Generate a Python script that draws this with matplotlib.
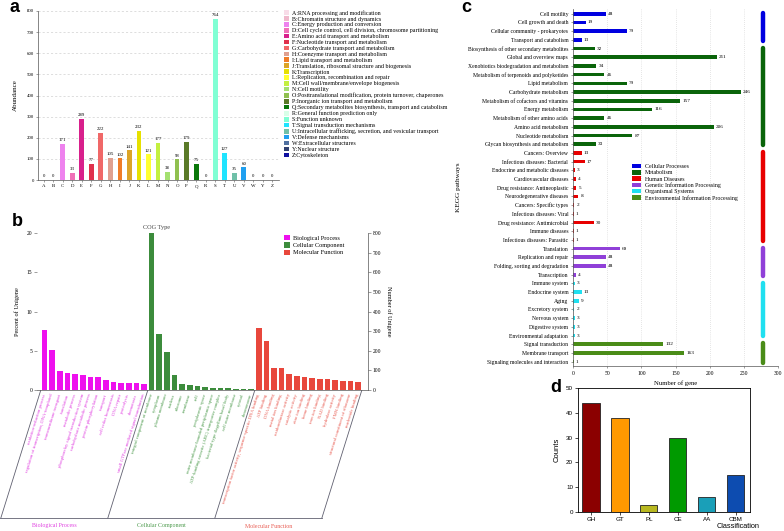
import numpy as np
import matplotlib
matplotlib.use("Agg")
import matplotlib.pyplot as plt
from matplotlib.patches import Patch
from matplotlib.transforms import blended_transform_factory

W, H = 784, 531
SERIF = 'Liberation Serif'
SANS = 'Liberation Sans'

#### panel a : COG
cog_letters = ['A', 'B', 'C', 'D', 'E', 'F', 'G', 'H', 'I', 'J', 'K', 'L', 'M',
               'N', 'O', 'P', 'Q', 'R', 'S', 'T', 'U', 'V', 'W', 'Y', 'Z']
cog_counts = [0, 0, 171, 33, 289, 77, 222, 105, 102, 141, 232, 121, 177,
              38, 98, 179, 75, 0, 764, 127, 35, 60, 0, 0, 0]
cog_names = ["RNA processing and modification",
             "Chromatin structure and dynamics",
             "Energy production and conversion",
             "Cell cycle control, cell division, chromosome partitioning",
             "Amino acid transport and metabolism",
             "Nucleotide transport and metabolism",
             "Carbohydrate transport and metabolism",
             "Coenzyme transport and metabolism",
             "Lipid transport and metabolism",
             "Translation, ribosomal structure and biogenesis",
             "Transcription",
             "Replication, recombination and repair",
             "Cell wall/membrane/envelope biogenesis",
             "Cell motility",
             "Posttranslational modification, protein turnover, chaperones",
             "Inorganic ion transport and metabolism",
             "Secondary metabolites biosynthesis, transport and catabolism",
             "General function prediction only",
             "Function unknown",
             "Signal transduction mechanisms",
             "Intracellular trafficking, secretion, and vesicular transport",
             "Defense mechanisms",
             "Extracellular structures",
             "Nuclear structure",
             "Cytoskeleton"]
cog_colors = ['#F8DCE8', '#F0B8CC', '#EE82EE', '#F070B8', '#D8208C', '#E0304C',
              '#F06868', '#E0A090', '#F07C28', '#DCA428', '#E6E000', '#FFFF30',
              '#C4F040', '#A4E070', '#90C050', '#5A7A28', '#0A780A', '#D8FFE8',
              '#80FFD4', '#20E4FF', '#70C0A8', '#20A0F0', '#5070A0', '#304070',
              '#1010A0']

#### panel b : GO
go_groups = ['Biological Process', 'Cellular Component', 'Molecular Function']
go_bp_terms = ["oxidation-reduction process",
               "regulation of transcription, DNA-templated",
               "transmembrane transport", "translation", "metabolic process",
               "phosphorelay signal transduction system",
               "carbohydrate metabolic process", "protein phosphorylation",
               "transport", "cell redox homeostasis", "DNA repair",
               "proteolysis", "chemotaxis",
               "small GTPase mediated signal transduction"]
go_bp_pct = [7.6, 5.1, 2.4, 2.2, 2.1, 1.85, 1.7, 1.6, 1.25, 1.05, 0.9, 0.9, 0.85, 0.75]
go_cc_terms = ["integral component of membrane", "cytoplasm", "plasma membrane",
               "nucleus", "ribosome", "membrane", "cell", "periplasmic space",
               "outer membrane-bounded periplasmic space",
               "ATP-binding cassette (ABC) transporter complex",
               "bacterial-type flagellum basal body", "cell outer membrane",
               "cytosol", "chromosome"]
go_cc_pct = [20.1, 7.1, 4.8, 1.95, 0.8, 0.6, 0.55, 0.35, 0.3, 0.2, 0.2, 0.15, 0.1, 0.1]
go_mf_terms = ["transcription factor activity, sequence-specific DNA binding",
               "ATP binding", "DNA binding", "metal ion binding",
               "oxidoreductase activity", "catalytic activity", "zinc ion binding",
               "heme binding", "iron ion binding", "NAD binding",
               "hydrolase activity", "FMN binding",
               "structural constituent of ribosome", "nucleotide binding"]
go_mf_pct = [7.85, 6.3, 2.85, 2.85, 2.07, 1.8, 1.62, 1.47, 1.46, 1.42, 1.3, 1.2, 1.12, 1.0]
go_colors = ['#EE10EE', '#3C8C3C', '#E8473C']
go_text_colors = ['#E040E0', '#4C9A4C', '#E85A50']

#### panel c : KEGG
kegg_groups = ['Cellular Processes', 'Metabolism', 'Human Diseases',
               'Genetic Information Processing', 'Organismal Systems',
               'Environmental Information Processing']
kegg_colors = ['#0000E0', '#0A640A', '#E80000', '#9040D8', '#20E0F0', '#4A8C18']
kegg_pathways = [
    ["Cell motility", "Cell growth and death", "Cellular community - prokaryotes",
     "Transport and catabolism"],
    ["Biosynthesis of other secondary metabolites", "Global and overview maps",
     "Xenobiotics biodegradation and metabolism",
     "Metabolism of terpenoids and polyketides", "Lipid metabolism",
     "Carbohydrate metabolism", "Metabolism of cofactors and vitamins",
     "Energy metabolism", "Metabolism of other amino acids",
     "Amino acid metabolism", "Nucleotide metabolism",
     "Glycan biosynthesis and metabolism"],
    ["Cancers: Overview", "Infectious diseases: Bacterial",
     "Endocrine and metabolic diseases", "Cardiovascular diseases",
     "Drug resistance: Antineoplastic", "Neurodegenerative diseases",
     "Cancers: Specific types", "Infectious diseases: Viral",
     "Drug resistance: Antimicrobial", "Immune diseases",
     "Infectious diseases: Parasitic"],
    ["Translation", "Replication and repair", "Folding, sorting and degradation",
     "Transcription"],
    ["Immune system", "Endocrine system", "Aging", "Excretory system",
     "Nervous system", "Digestive system", "Environmental adaptation"],
    ["Signal transduction", "Membrane transport",
     "Signaling molecules and interaction"],
]
kegg_counts = [
    [48, 19, 79, 13],
    [32, 211, 34, 46, 79, 246, 157, 116, 46, 206, 87, 33],
    [13, 17, 3, 4, 5, 8, 2, 1, 30, 1, 1],
    [69, 48, 48, 4],
    [3, 13, 9, 2, 3, 3, 3],
    [132, 163, 1],
]

#### panel d : CAZy
cazy_classes = ['GH', 'GT', 'PL', 'CE', 'AA', 'CBM']
cazy_counts = [44, 38, 3, 30, 6, 15]
cazy_colors = ['#8B0000', '#FF9900', '#B8B820', '#009A00', '#1A9FB8', '#0D4CB0']


def box(l, t, r, b):
    return [l / W, 1 - b / H, (r - l) / W, (b - t) / H]


fig = plt.figure(figsize=(W / 100, H / 100), dpi=100)
over = fig.add_axes([0, 0, 1, 1])
over.set_xlim(0, W)
over.set_ylim(H, 0)
over.axis('off')

grey = '#555555'

# ---------------- a
axa = fig.add_axes(box(38, 11, 279, 180))
xa = np.arange(len(cog_letters))
axa.bar(xa, cog_counts, width=0.5, color=cog_colors, zorder=2)
for xi, v in zip(xa, cog_counts):
    axa.text(xi, v + 8, str(v), ha='center', va='bottom', fontsize=3.5, family=SERIF)
axa.set_xlim(-0.6, 24.7)
axa.set_ylim(0, 800)
axa.set_yticks(range(0, 801, 100))
axa.set_xticks(xa)
axa.set_xticklabels(cog_letters)
axa.yaxis.grid(True, ls=(0, (3, 3)), color='#d0d0d0', lw=0.5, zorder=0)
for s in ['top', 'right']:
    axa.spines[s].set_visible(False)
for s in ['left', 'bottom']:
    axa.spines[s].set_color(grey)
    axa.spines[s].set_linewidth(0.5)
axa.tick_params(labelsize=3.5, length=1.5, width=0.4, color=grey, pad=1.5)
for t in axa.get_xticklabels() + axa.get_yticklabels():
    t.set_family(SERIF)
axa.set_ylabel('Abundance', fontsize=5, family=SERIF, labelpad=6)

fig.legend([Patch(facecolor=c) for c in cog_colors],
           [f"{l}:{n}" for l, n in zip(cog_letters, cog_names)],
           loc='upper left', bbox_to_anchor=(284 / W, 1 - 10 / H),
           prop={'family': SERIF, 'size': 4.3}, frameon=False,
           handlelength=0.85, handleheight=0.8, labelspacing=0.09,
           handletextpad=0.5, borderaxespad=0, borderpad=0)

# ---------------- b
axb = fig.add_axes(box(37, 233, 368, 390))
pct = go_bp_pct + go_cc_pct + go_mf_pct
terms = go_bp_terms + go_cc_terms + go_mf_terms
gidx = [0] * len(go_bp_pct) + [1] * len(go_cc_pct) + [2] * len(go_mf_pct)
xb = np.arange(len(pct))
axb.bar(xb, pct, width=0.74, color=[go_colors[g] for g in gidx])
axb.set_xlim(-1.0, 42.3)
axb.set_ylim(0, 20)
axb.set_yticks(range(0, 21, 5))
axb.set_xticks([])
for s in ['top', 'right', 'left']:
    axb.spines[s].set_visible(False)
axb.spines['bottom'].set_color(grey)
axb.spines['bottom'].set_linewidth(0.5)
axb.tick_params(labelsize=4, length=2, width=0.4, color=grey, pad=1.5)
for t in axb.get_yticklabels():
    t.set_family(SERIF)
axb.set_ylabel('Percent of Unigene', fontsize=4.5, family=SERIF, labelpad=5)

axb2 = axb.twinx()
axb2.set_ylim(0, 800)
axb2.set_yticks(range(0, 801, 100))
for s in ['top', 'left', 'bottom']:
    axb2.spines[s].set_visible(False)
axb2.spines['right'].set_color(grey)
axb2.spines['right'].set_linewidth(0.5)
axb2.tick_params(labelsize=4, length=2, width=0.4, color=grey, pad=1.5)
for t in axb2.get_yticklabels():
    t.set_family(SERIF)
axb2.set_ylabel('Number of Unigene', fontsize=4.5, family=SERIF, rotation=270, labelpad=7)

tr = blended_transform_factory(axb.transData, axb.transAxes)
for xi, term, g in zip(xb, terms, gidx):
    axb.text(xi, -0.025, term, transform=tr, rotation=72.5, rotation_mode='anchor',
             ha='right', va='center', fontsize=3.4, family=SERIF,
             color=go_text_colors[g], clip_on=False)


def bx_px(xd):
    x0, x1 = axb.get_xlim()
    return 37 + (xd - x0) / (x1 - x0) * (368 - 37)


bounds = [-0.5, 13.5, 27.5, 41.5]
shift = 40
for b in bounds:
    xp = bx_px(b)
    over.plot([xp, xp - shift], [390, 518], color='#606070', lw=0.6)
over.plot([0, bx_px(bounds[-1]) - shift], [518, 518], color='#606070', lw=0.6)
for i, g in enumerate(go_groups):
    xm = (bx_px(bounds[i]) + bx_px(bounds[i + 1])) / 2 - shift
    over.text(xm, 526, g, ha='center', va='center', fontsize=4.2,
              family=SERIF, color=go_text_colors[i])
over.text(157, 228, 'COG Type', ha='center', va='center', fontsize=4.5, family=SERIF, color='#444444')

fig.legend([Patch(facecolor=c) for c in go_colors], go_groups,
           loc='upper left', bbox_to_anchor=(284 / W, 1 - 235 / H),
           prop={'family': SERIF, 'size': 4.5}, frameon=False,
           handlelength=0.9, handleheight=0.9, labelspacing=0.25,
           handletextpad=0.6, borderaxespad=0, borderpad=0)

# ---------------- c
axc = fig.add_axes(box(573, 9, 778, 366))
names_c, counts_c, cols_c, spans = [], [], [], []
for g, (paths, cnts) in enumerate(zip(kegg_pathways, kegg_counts)):
    start = len(names_c)
    names_c += paths
    counts_c += cnts
    cols_c += [kegg_colors[g]] * len(paths)
    spans.append((start, len(names_c) - 1))
yc = np.arange(len(names_c))
axc.barh(yc, counts_c, height=0.42, color=cols_c, zorder=2)
for yi, v in zip(yc, counts_c):
    axc.text(v + 3, yi, str(v), ha='left', va='center', fontsize=3.8, family=SERIF)
axc.set_ylim(40.5, -0.55)
axc.set_xlim(0, 300)
axc.set_yticks(yc)
axc.set_yticklabels(names_c)
axc.set_xticks(range(0, 301, 50))
axc.xaxis.grid(True, ls=(0, (1, 2)), color='#cccccc', lw=0.5, zorder=0)
for s in ['top', 'right']:
    axc.spines[s].set_visible(False)
for s in ['left', 'bottom']:
    axc.spines[s].set_color(grey)
    axc.spines[s].set_linewidth(0.5)
axc.tick_params(labelsize=4.1, length=1.5, width=0.4, color=grey, pad=2)
for t in axc.get_xticklabels() + axc.get_yticklabels():
    t.set_family(SERIF)
axc.set_xlabel('Number of gene', fontsize=4.8, family=SERIF, labelpad=3)
axc.set_ylabel('KEGG pathways', fontsize=5.2, family=SERIF, labelpad=5)
for (s0, s1), c in zip(spans, kegg_colors):
    axc.plot([278, 278], [s0 - 0.1, s1 + 0.1], color=c, lw=3.2,
             solid_capstyle='round', clip_on=False)
axc.legend([Patch(facecolor=c) for c in kegg_colors], kegg_groups,
           loc='upper left', bbox_to_anchor=(632 / W, 1 - 164 / H),
           bbox_transform=fig.transFigure,
           prop={'family': SERIF, 'size': 4.2}, frameon=False,
           handlelength=1.6, handleheight=0.8, labelspacing=0.15,
           handletextpad=0.6, borderaxespad=0, borderpad=0)

# ---------------- d
axd = fig.add_axes(box(578, 388, 750, 512))
xd = np.arange(len(cazy_classes))
axd.bar(xd, cazy_counts, width=0.6, color=cazy_colors, edgecolor='#222222', lw=0.6)
axd.set_xlim(-0.45, 5.5)
axd.set_ylim(0, 50)
axd.set_yticks(range(0, 51, 10))
axd.set_xticks(xd)
axd.set_xticklabels(cazy_classes)
for s in axd.spines.values():
    s.set_linewidth(0.6)
axd.tick_params(labelsize=4.5, length=2, width=0.5, pad=1.5)
for t in axd.get_xticklabels() + axd.get_yticklabels():
    t.set_family(SANS)
axd.set_ylabel('Counts', fontsize=5.5, family=SANS, labelpad=4)
over.text(738, 527, 'Classification', ha='center', va='center', fontsize=5.3, family=SANS)

# panel letters
for txt, (x, y) in zip('abcd', [(15, 8), (17, 222), (466, 8), (556, 387)]):
    over.text(x, y, txt, ha='center', va='center', fontsize=13,
              fontweight='bold', family=SANS)

fig.savefig('out.png', dpi=100)
